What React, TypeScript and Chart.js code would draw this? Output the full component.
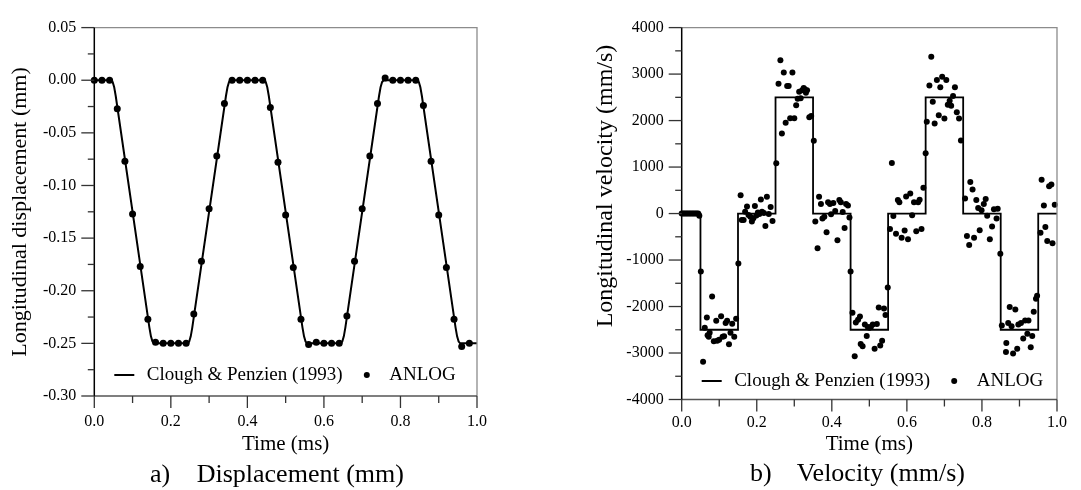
import React, { useEffect, useRef } from 'react';
import { Chart, registerables } from 'chart.js';
Chart.register(...registerables);

const FONT = "'Liberation Serif', 'Times New Roman', serif";

// ---------- tick labels ----------
const timeTickLabels = ['0.0', '0.2', '0.4', '0.6', '0.8', '1.0'];
const dispTickLabels = ['-0.30', '-0.25', '-0.20', '-0.15', '-0.10', '-0.05', '0.00', '0.05'];
const velTickLabels = ['-4000', '-3000', '-2000', '-1000', '0', '1000', '2000', '3000', '4000'];

// ---------- (a) displacement: Clough & Penzien (1993) ----------
const dispLineT = [0, 0.044, 0.048, 0.052, 0.056, 0.144, 0.148, 0.152, 0.156, 0.244, 0.248, 0.252, 0.256,
  0.344, 0.348, 0.352, 0.356, 0.444, 0.448, 0.452, 0.456, 0.544, 0.548, 0.552, 0.556, 0.644, 0.648, 0.652,
  0.656, 0.744, 0.748, 0.752, 0.756, 0.844, 0.848, 0.852, 0.856, 0.944, 0.948, 0.952, 0.956, 1.0];
const dispLineY = [0, 0, -0.0017, -0.0067, -0.015, -0.235, -0.2433, -0.2483, -0.25, -0.25, -0.2483, -0.2433, -0.235,
  -0.015, -0.0067, -0.0017, 0, 0, -0.0017, -0.0067, -0.015, -0.235, -0.2433, -0.2483, -0.25, -0.25, -0.2483, -0.2433,
  -0.235, -0.015, -0.0067, -0.0017, 0, 0, -0.0017, -0.0067, -0.015, -0.235, -0.2433, -0.2483, -0.25, -0.25];

// ---------- (a) displacement: ANLOG ----------
const dispAnlogT = [0, 0.02, 0.04, 0.06, 0.08, 0.10, 0.12, 0.14, 0.16, 0.18, 0.20, 0.22, 0.24, 0.26, 0.28, 0.30,
  0.32, 0.34, 0.36, 0.38, 0.40, 0.42, 0.44, 0.46, 0.48, 0.50, 0.52, 0.54, 0.56, 0.58, 0.60, 0.62, 0.64, 0.66,
  0.68, 0.70, 0.72, 0.74, 0.76, 0.78, 0.80, 0.82, 0.84, 0.86, 0.88, 0.90, 0.92, 0.94, 0.96, 0.98];
const dispAnlogY = [0, 0, 0, -0.027, -0.077, -0.127, -0.177, -0.227, -0.249, -0.25, -0.25, -0.25, -0.25, -0.222,
  -0.172, -0.122, -0.072, -0.022, 0, 0, 0, 0, 0, -0.026, -0.078, -0.128, -0.178, -0.227, -0.251, -0.249, -0.25,
  -0.25, -0.25, -0.224, -0.172, -0.122, -0.072, -0.022, 0.002, 0, 0, 0, 0, -0.024, -0.077, -0.128, -0.178,
  -0.227, -0.253, -0.25];

// ---------- (b) velocity: Clough & Penzien (1993) (step levels) ----------
const velLineT = [0, 0.05, 0.15, 0.25, 0.35, 0.45, 0.55, 0.65, 0.75, 0.85, 0.95, 1.0];
const velLineY = [0, -2500, 0, 2500, 0, -2500, 0, 2500, 0, -2500, 0, 0];

// ---------- (b) velocity: ANLOG ----------
const velAnlogT = [
  0, 0.004, 0.008, 0.012, 0.016, 0.02, 0.024, 0.028, 0.032, 0.036, 0.04, 0.044, 0.047,
  0.051, 0.057, 0.0615, 0.067, 0.069, 0.072, 0.0745, 0.081, 0.0856, 0.092, 0.0945, 0.0998, 0.105, 0.109, 0.113,
  0.117, 0.121, 0.126, 0.130, 0.1346, 0.14, 0.145, 0.151,
  0.157, 0.160, 0.165, 0.169, 0.174, 0.178, 0.183, 0.187, 0.191, 0.195, 0.199, 0.203, 0.207, 0.211, 0.214, 0.219,
  0.223, 0.227, 0.232, 0.237, 0.242,
  0.252, 0.258, 0.263, 0.267, 0.272, 0.277, 0.281, 0.285, 0.289, 0.295, 0.300, 0.305, 0.309, 0.313, 0.317, 0.321,
  0.325, 0.328, 0.331, 0.334, 0.340, 0.345, 0.352,
  0.356, 0.362, 0.366, 0.371, 0.375, 0.380, 0.386, 0.390, 0.395, 0.398, 0.404, 0.409, 0.415, 0.420, 0.424, 0.429,
  0.434, 0.438, 0.443, 0.447,
  0.450, 0.455, 0.461, 0.464, 0.470, 0.475, 0.477, 0.482, 0.488, 0.493, 0.496, 0.500, 0.504, 0.509, 0.514, 0.520,
  0.525, 0.529, 0.534, 0.539, 0.543, 0.549,
  0.555, 0.560, 0.564, 0.571, 0.576, 0.580, 0.586, 0.594, 0.598, 0.603, 0.609, 0.614, 0.619, 0.625, 0.630, 0.634,
  0.639, 0.644,
  0.650, 0.653, 0.660, 0.665, 0.669, 0.674, 0.680, 0.685, 0.689, 0.694, 0.700, 0.705, 0.709, 0.714, 0.718, 0.723,
  0.728, 0.733, 0.739, 0.744,
  0.755, 0.760, 0.766, 0.769, 0.775, 0.779, 0.785, 0.790, 0.794, 0.799, 0.805, 0.810, 0.814, 0.821, 0.827, 0.832,
  0.839, 0.842,
  0.849, 0.853, 0.864, 0.865, 0.870, 0.874, 0.879, 0.883, 0.889, 0.894, 0.897, 0.904, 0.910, 0.915, 0.921, 0.924,
  0.930, 0.934, 0.938, 0.944, 0.947,
  0.956, 0.959, 0.965, 0.969, 0.974, 0.979, 0.985, 0.988, 0.994];
const velAnlogY = [
  0, 0, 0, 0, 0, 0, 0, 0, 0, 0, 0, 0, -50,
  -1247, -3186, -2458, -2237, -2618, -2652, -2562, -1787, -2749, -2306, -2735, -2715, -2209, -2652, -2638,
  -2354, -2306, -2812, -2562, -2368, -2652, -2265, -1073,
  393, -140, -140, 40, 150, -30, -70, -170, -100, 160, -40, 20, -10, 300, 40, 10,
  -270, 360, -10, 140, -160,
  1083, 2793, 3297, 1724, 3034, 1952, 2745, 2745, 2048, 3034, 2048, 2331, 2469, 2620, 2480, 2655,
  2700, 2676, 2600, 2650, 2070, 2100, 1566,
  -173, -748, 360, 208, -104, -69, -402, 242, 208, -14, 228, 55, -575, 291, 242, 35,
  -312, 208, 173, -83,
  -1247, -2133, -3068, -2341, -2285, -2216, -2805, -2853, -2389, -2632, -2438, -2458, -2438, -2389, -2909, -2375,
  -2022, -2839, -2735, -2043, -2181, -1593,
  -332, 1087, -55, -436, 291, 242, -519, -367, 367, -554, 429, -35, 242, -381, 242, 298,
  -332, 554,
  1295, 1974, 2756, 3373, 2403, 1939, 2874, 2112, 2715, 2943, 2043, 2874, 2341, 2424, 2320, 2528,
  2715, 2181, 2043, 1572,
  325, -485, -679, 679, 519, -519, 291, 118, -360, 69, 208, 312, -48, -554, -277, 90,
  -104, 104,
  -866, -2410, -2978, -2784, -2355, -2008, -2424, -3012, -2064, -2909, -2389, -2355, -2687, -2299, -2583, -2299,
  -2874, -2632, -2112, -1835, -1766,
  -415, 727, 173, -291, -589, 589, 623, -637, 187];

type PanelCfg = {
  lineT: number[]; lineY: number[]; dotT: number[]; dotY: number[];
  stepped: boolean; yMin: number; yMax: number; yStep: number; yLabels: string[];
  yTitle: string; yTitleSize: number; captionA: string; captionB: string;
  canvasW: number; areaLeft: number; areaRight: number; areaBottom: number;
  xTickPad: number; xScaleH: number; dotR: number; lineW: number;
  yTitleX: number; yTitleY: number; legendY: number; capAX: number; capBX: number; capY: number;
};

const legendLineLabel = 'Clough & Penzien (1993)';
const legendDotLabel = 'ANLOG';

function findLabel(labels: string[], v: number) {
  const l = labels.find((s) => Math.abs(parseFloat(s) - v) < 1e-6);
  return l === undefined ? '' : l;
}

function makePlugin(cfg: PanelCfg) {
  return {
    id: 'decor',
    afterDraw(chart: any) {
      const { ctx, chartArea: ca, scales } = chart;
      const xs = scales.x, ys = scales.y;
      ctx.save();
      // frame (top & right, gray)
      ctx.strokeStyle = '#8c8c8c';
      ctx.lineWidth = 1.3;
      ctx.beginPath();
      ctx.moveTo(ca.left, ca.top);
      ctx.lineTo(ca.right, ca.top);
      ctx.lineTo(ca.right, ca.bottom);
      ctx.stroke();
      // bottom axis
      ctx.strokeStyle = '#555';
      ctx.lineWidth = 1.5;
      ctx.beginPath();
      ctx.moveTo(ca.left, ca.bottom);
      ctx.lineTo(ca.right, ca.bottom);
      ctx.stroke();
      // left axis
      ctx.strokeStyle = '#000';
      ctx.beginPath();
      ctx.moveTo(ca.left, ca.top);
      ctx.lineTo(ca.left, ca.bottom);
      ctx.stroke();
      // y ticks
      ctx.lineWidth = 1.3;
      ctx.strokeStyle = '#333';
      const yt = ys.ticks.map((t: any) => t.value);
      yt.forEach((v: number, i: number) => {
        const p = ys.getPixelForValue(v);
        ctx.beginPath(); ctx.moveTo(ca.left - 13, p); ctx.lineTo(ca.left, p); ctx.stroke();
        if (i < yt.length - 1) {
          const pm = ys.getPixelForValue((v + yt[i + 1]) / 2);
          ctx.beginPath(); ctx.moveTo(ca.left - 6.5, pm); ctx.lineTo(ca.left, pm); ctx.stroke();
        }
      });
      // x ticks
      const xt = xs.ticks.map((t: any) => t.value);
      xt.forEach((v: number, i: number) => {
        const p = xs.getPixelForValue(v);
        ctx.beginPath(); ctx.moveTo(p, ca.bottom); ctx.lineTo(p, ca.bottom + 12); ctx.stroke();
        if (i < xt.length - 1) {
          const pm = xs.getPixelForValue((v + xt[i + 1]) / 2);
          ctx.beginPath(); ctx.moveTo(pm, ca.bottom); ctx.lineTo(pm, ca.bottom + 7); ctx.stroke();
        }
      });
      // legend
      ctx.fillStyle = '#000';
      ctx.strokeStyle = '#000';
      ctx.lineWidth = 2;
      ctx.beginPath();
      ctx.moveTo(ca.left + 20, cfg.legendY);
      ctx.lineTo(ca.left + 40, cfg.legendY);
      ctx.stroke();
      ctx.font = `19px ${FONT}`;
      ctx.textBaseline = 'middle';
      ctx.textAlign = 'left';
      ctx.fillText(legendLineLabel, ca.left + 52.5, cfg.legendY);
      ctx.beginPath();
      ctx.arc(ca.left + 272.5, cfg.legendY, 3, 0, Math.PI * 2);
      ctx.fill();
      ctx.fillText(legendDotLabel, ca.left + 295, cfg.legendY);
      // y title
      ctx.save();
      ctx.translate(cfg.yTitleX, cfg.yTitleY);
      ctx.rotate(-Math.PI / 2);
      ctx.font = `${cfg.yTitleSize}px ${FONT}`;
      ctx.textAlign = 'center';
      ctx.fillText(cfg.yTitle, 0, 0);
      ctx.restore();
      // caption
      ctx.font = `26px ${FONT}`;
      ctx.textAlign = 'left';
      ctx.fillText(cfg.captionA, ca.left + cfg.capAX, cfg.capY);
      ctx.fillText(cfg.captionB, ca.left + cfg.capBX, cfg.capY);
      ctx.restore();
    },
  };
}

function Panel({ cfg, left }: { cfg: PanelCfg; left: number }) {
  const ref = useRef<HTMLCanvasElement>(null);
  useEffect(() => {
    const yScaleW = cfg.areaLeft;
    const chart = new Chart(ref.current as HTMLCanvasElement, {
      type: 'scatter',
      data: {
        datasets: [
          {
            label: legendDotLabel,
            data: cfg.dotT.map((t, i) => ({ x: t, y: cfg.dotY[i] })),
            showLine: false,
            pointRadius: cfg.dotR,
            pointBorderWidth: 0,
            pointBackgroundColor: '#000',
            backgroundColor: '#000',
            clip: false,
          } as any,
          {
            label: legendLineLabel,
            data: cfg.lineT.map((t, i) => ({ x: t, y: cfg.lineY[i] })),
            showLine: true,
            stepped: cfg.stepped,
            pointRadius: 0,
            borderColor: '#000',
            borderWidth: cfg.lineW,
            fill: false,
            tension: 0,
            clip: 4,
          } as any,
        ],
      },
      options: {
        responsive: false,
        animation: false,
        devicePixelRatio: 1,
        layout: {
          padding: {
            left: 0,
            top: 14,
            right: cfg.canvasW - cfg.areaRight,
            bottom: 490 - cfg.areaBottom - cfg.xScaleH,
          },
        },
        plugins: { legend: { display: false }, tooltip: { enabled: false }, title: { display: false } },
        scales: {
          x: {
            type: 'linear',
            min: 0,
            max: 1,
            ticks: {
              stepSize: 0.2,
              color: '#000',
              padding: cfg.xTickPad,
              maxRotation: 0,
              font: { family: FONT, size: 16 },
              callback: (v: any) => findLabel(timeTickLabels, Number(v)),
            },
            grid: { display: false, drawTicks: false },
            border: { display: false },
            title: {
              display: true,
              text: 'Time (ms)',
              color: '#000',
              font: { family: FONT, size: 21 },
              padding: { top: 0, bottom: 0 },
            },
            afterFit: (s: any) => { s.height = cfg.xScaleH; },
          },
          y: {
            type: 'linear',
            min: cfg.yMin,
            max: cfg.yMax,
            ticks: {
              stepSize: cfg.yStep,
              color: '#000',
              padding: 18,
              font: { family: FONT, size: 16 },
              callback: (v: any) => findLabel(cfg.yLabels, Number(v)),
            },
            grid: { display: false, drawTicks: false },
            border: { display: false },
            afterFit: (s: any) => { s.width = yScaleW; },
          },
        },
      } as any,
      plugins: [makePlugin(cfg)],
    });
    return () => chart.destroy();
  }, []);
  return (
    <canvas
      ref={ref}
      width={cfg.canvasW}
      height={490}
      style={{ position: 'absolute', left, top: 0, width: cfg.canvasW, height: 490 }}
    />
  );
}

const dispCfg: PanelCfg = {
  lineT: dispLineT, lineY: dispLineY, dotT: dispAnlogT, dotY: dispAnlogY, stepped: false,
  yMin: -0.3, yMax: 0.05, yStep: 0.05, yLabels: dispTickLabels,
  yTitle: 'Longitudinal displacement (mm)', yTitleSize: 22, captionA: 'a)', captionB: 'Displacement (mm)',
  canvasW: 540, areaLeft: 94.3, areaRight: 477, areaBottom: 396, xTickPad: 16, xScaleH: 61,
  dotR: 3.5, lineW: 2, yTitleX: 20, yTitleY: 212, legendY: 375, capAX: 55.7, capBX: 102.4, capY: 475,
};

const velCfg: PanelCfg = {
  lineT: velLineT, lineY: velLineY, dotT: velAnlogT, dotY: velAnlogY, stepped: true,
  yMin: -4000, yMax: 4000, yStep: 1000, yLabels: velTickLabels,
  yTitle: 'Longitudinal velocity (mm/s)', yTitleSize: 24, captionA: 'b)', captionB: 'Velocity (mm/s)',
  canvasW: 541, areaLeft: 141.7, areaRight: 528.3, areaBottom: 399.5, xTickPad: 14, xScaleH: 57.5,
  dotR: 3, lineW: 1.8, yTitleX: 66, yTitleY: 186, legendY: 381, capAX: 68.3, capBX: 115, capY: 474,
};

export default function App() {
  return (
    <div style={{ position: 'fixed', left: 0, top: 0, width: 1081, height: 490, background: '#fff' }}>
      <Panel cfg={dispCfg} left={0} />
      <Panel cfg={velCfg} left={540} />
    </div>
  );
}
